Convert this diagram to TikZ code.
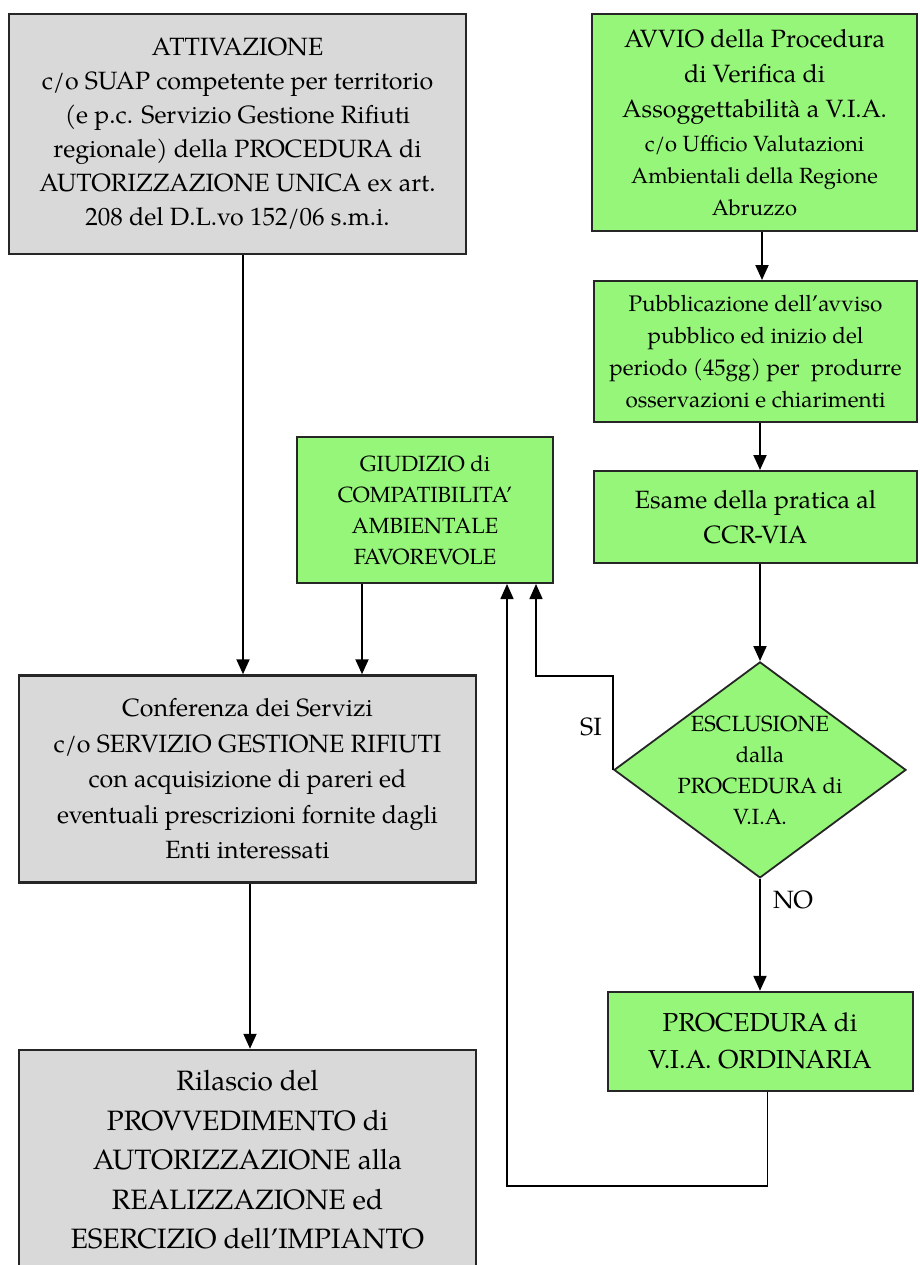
\documentclass[tikz,border=0pt]{standalone}
\usepackage{fontspec}
\setmainfont{TeX Gyre Pagella}
\usepackage{tikz}
\usetikzlibrary{arrows.meta,positioning,shapes.geometric}
\definecolor{verdebox}{RGB}{150,246,122}
\definecolor{grigiobox}{RGB}{217,217,217}
\tikzset{
  grigio/.style={draw=black!85, fill=grigiobox, line width=2.5pt, align=center,
                 inner sep=0pt, font=\fontsize{25}{34}\selectfont},
  verde/.style={draw=black!85, fill=verdebox, line width=2pt, align=center,
                inner sep=0pt, font=\fontsize{25}{35}\selectfont},
  rombo/.style={diamond, aspect=1.35, draw=black!85, fill=verdebox, line width=1.8pt,
                align=center, inner sep=-12pt, font=\fontsize{22}{31}\selectfont},
  freccia/.style={-{Triangle[length=15pt,width=13pt]}, line width=2pt},
  ritorno/.style={-{Triangle[length=15pt,width=13pt]}, line width=1.6pt},
  etich/.style={inner sep=0pt, font=\fontsize{25}{30}\selectfont},
}
\begin{document}
\begin{tikzpicture}[x=1pt, y=1pt]
  \useasboundingbox (0,0) rectangle (919,-1265);

  % colonna sinistra
  \node[grigio, minimum width=457pt, minimum height=240pt] (attiv) at (237.5,-134)
    {ATTIVAZIONE\\ c/o SUAP competente per territorio\\ (e p.c. Servizio Gestione Rifiuti\\
     regionale) della PROCEDURA di\\ AUTORIZZAZIONE UNICA ex art.\\ 208 del D.L.vo 152/06 s.m.i.};
  \node[grigio, minimum width=457pt, minimum height=207pt, font=\fontsize{25}{35.5}\selectfont,
        below=419pt of attiv, xshift=10pt] (conf)
    {Conferenza dei Servizi\\ c/o SERVIZIO GESTIONE RIFIUTI\\ con acquisizione di pareri ed\\
     eventuali prescrizioni fornite dagli\\ Enti interessati};
  \node[grigio, minimum width=457pt, minimum height=220pt, font=\fontsize{28}{39.5}\selectfont,
        below=165pt of conf] (rilas)
    {Rilascio del\\ PROVVEDIMENTO di\\ AUTORIZZAZIONE alla\\ REALIZZAZIONE ed\\
     ESERCIZIO dell’IMPIANTO};

  % colonna destra
  \node[verde, minimum width=325pt, minimum height=217pt, font=\fontsize{22}{32}\selectfont]
    (avvio) at (754.5,-122.5)
    {\fontsize{25}{35}\selectfont AVVIO della Procedura\\[3pt]
     \fontsize{25}{35}\selectfont di Verifica di\\[3pt]
     \fontsize{25}{35}\selectfont Assoggettabilità a V.I.A.\\[2pt]
     c/o Ufficio Valutazioni\\ Ambientali della Regione\\ Abruzzo};
  \node[verde, minimum width=323pt, minimum height=141pt, font=\fontsize{22.5}{32}\selectfont,
        below=48pt of avvio, xshift=1pt] (pubbl)
    {Pubblicazione dell’avviso\\ pubblico ed inizio del\\ periodo (45gg) per\ \ produrre\\
     osservazioni e chiarimenti};
  \node[verde, minimum width=323pt, minimum height=92pt, below=47pt of pubbl] (esame)
    {Esame della pratica al\\ CCR-VIA};
  \node[rombo, minimum width=292pt, minimum height=216pt, below=97pt of esame, xshift=4.5pt] (esclu)
    {ESCLUSIONE\\ dalla\\ PROCEDURA di\\ V.I.A.};
  \node[verde, minimum width=305pt, minimum height=99pt, font=\fontsize{26}{37}\selectfont,
        below=112pt of esclu] (proc)
    {PROCEDURA di\\ V.I.A. ORDINARIA};
  \node[verde, minimum width=256pt, minimum height=146pt, font=\fontsize{22}{31}\selectfont]
    (giud) at (425,-510)
    {GIUDIZIO di\\ COMPATIBILITA’\\ AMBIENTALE\\ FAVOREVOLE};

  \node[etich] (si) at (591,-727) {SI};
  \node[etich] (no) at (793,-900) {NO};

  % frecce
  \coordinate (a1) at ([xshift=5.5pt]attiv.south);
  \coordinate (g1) at ([xshift=-63pt]giud.south);
  \coordinate (c1) at ([xshift=2.5pt]conf.south);
  \coordinate (v1) at ([xshift=7.5pt]avvio.south);
  \coordinate (p1) at ([xshift=4.5pt]pubbl.south);
  \coordinate (r1) at ([xshift=7.5pt]proc.south);
  \draw[freccia] (a1) -- (a1 |- conf.north);
  \draw[freccia] (g1) -- (g1 |- conf.north);
  \draw[freccia] (c1) -- (c1 |- rilas.north);
  \draw[freccia] (v1) -- (v1 |- pubbl.north);
  \draw[freccia] (p1) -- (p1 |- esame.north);
  \draw[freccia] (esame.south -| esclu.north) -- (esclu.north);
  \draw[freccia] (esclu.south) -- (esclu.south |- proc.north);
  \draw[ritorno] (esclu.west) -- ++(0,94pt) -| ([xshift=111pt]giud.south);
  \draw[ritorno] (r1) -- ++(0,-94pt) -| ([xshift=82pt]giud.south);
\end{tikzpicture}
\end{document}
